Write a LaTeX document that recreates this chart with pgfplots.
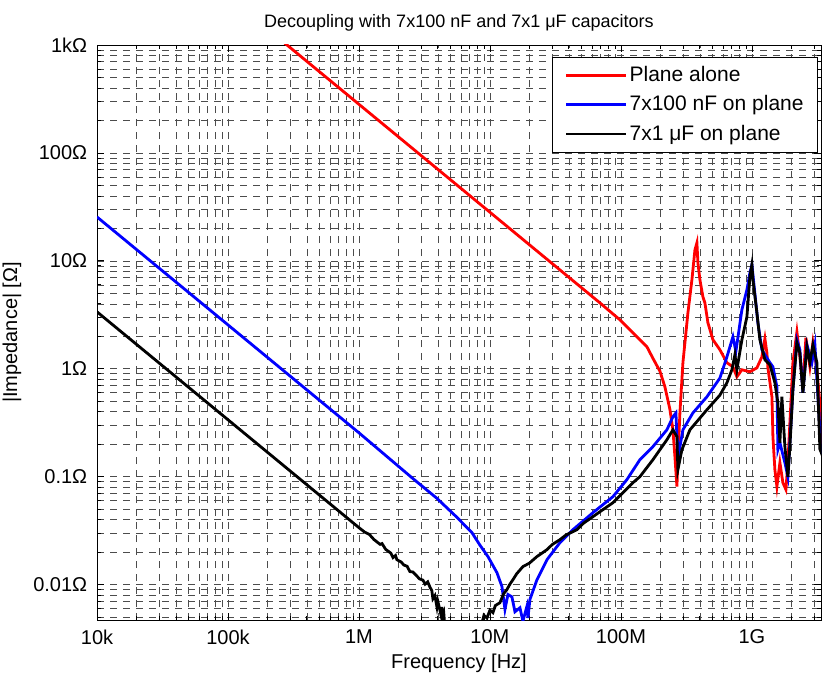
\documentclass[border=0pt]{standalone}
\usepackage{fontspec}
\setmainfont{Liberation Sans}
\usepackage{pgfplots}
\pgfplotsset{compat=1.18}
\begin{document}
\fontsize{20}{24}\selectfont
\begin{tikzpicture}
\useasboundingbox (0,0) rectangle (824pt,678pt);
\begin{axis}[
  at={(97pt,58pt)}, anchor=south west,
  scale only axis, width=724pt, height=575pt,
  xmode=log, ymode=log,
  xmin=1e4, xmax=3.37e9, ymin=0.0047, ymax=1000,
  xtick={1e4,1e5,1e6,1e7,1e8,1e9},
  xticklabels={10k,100k,1M,10M,100M,1G},
  ytick={0.01,0.1,1,10,100,1000},
  yticklabels={0.01Ω,0.1Ω,1Ω,10Ω,100Ω,1kΩ},
  minor xtick={2e4,3e4,4e4,5e4,6e4,7e4,8e4,9e4,2e5,3e5,4e5,5e5,6e5,7e5,8e5,9e5,2e6,3e6,4e6,5e6,6e6,7e6,8e6,9e6,2e7,3e7,4e7,5e7,6e7,7e7,8e7,9e7,2e8,3e8,4e8,5e8,6e8,7e8,8e8,9e8,2e9,3e9},
  minor ytick={0.005,0.006,0.007,0.008,0.009,0.02,0.03,0.04,0.05,0.06,0.07,0.08,0.09,0.2,0.3,0.4,0.5,0.6,0.7,0.8,0.9,2,3,4,5,6,7,8,9,20,30,40,50,60,70,80,90,200,300,400,500,600,700,800,900},
  grid=both,
  major grid style={dash pattern=on 7pt off 6pt, black!70, line width=0.55pt},
  minor grid style={dash pattern=on 7pt off 6pt, black!70, line width=0.55pt},
  tick align=inside, major tick length=7pt, minor tick length=4pt,
  tick style={black, line width=0.7pt},
  axis line style={line width=0.9pt},
  xticklabel style={yshift=-3pt},
  yticklabel style={xshift=-3pt},
  title={Decoupling with 7x100 nF and 7x1 μF capacitors},
  title style={font=\fontsize{18}{22}\selectfont, yshift=1pt},
  xlabel={Frequency [Hz]},
  ylabel={|Impedance| [Ω]},
  xlabel style={at={(axis description cs:0.5,0)}, anchor=center, yshift=-43pt},
  ylabel style={at={(axis description cs:-0.1174,0.5)}, anchor=center},
  legend style={at={(0.9959,0.979)}, anchor=north east, draw=black, line width=0.9pt, fill=white,
    font=\fontsize{21}{25}\selectfont, inner xsep=12pt, inner ysep=7pt, row sep=7pt},
  legend cell align=left,
  legend image code/.code={\draw[#1] (0pt,0pt) -- (60pt,0pt);},
]
\addplot[red, line width=2.8pt] coordinates {
(2.49e5,1131) (2.822e5,1000) (6.91e7,4.08) (9.83e7,2.84) (1.396e8,1.86) (1.579e8,1.60)
(1.755e8,1.25) (1.985e8,0.95) (2.167e8,0.68) (2.366e8,0.42) (2.494e8,0.272) (2.584e8,0.153)
(2.676e8,0.081) (2.723e8,0.144) (2.821e8,0.391) (2.974e8,1.14) (3.247e8,3.30) (3.483e8,6.67)
(3.672e8,12.6) (3.804e8,14.7) (3.871e8,9.6) (4.01e8,6.67) (4.227e8,4.64) (4.377e8,4.08)
(4.614e8,2.67) (5.038e8,1.86) (5.698e8,1.50) (6.446e8,1.137) (7.161e8,1.043) (7.683e8,0.843)
(8.387e8,0.979) (9.654e8,0.938) (1.092e9,1.02) (1.192e9,1.29) (1.257e9,1.9) (1.302e9,1.40)
(1.325e9,1.02) (1.422e9,0.55) (1.447e9,0.235) (1.498e9,0.116) (1.552e9,0.081) (1.636e9,0.135)
(1.724e9,0.088) (1.818e9,0.076) (1.883e9,0.135) (2.056e9,1.14) (2.206e9,2.20) (2.325e9,1.29)
(2.451e9,0.681) (2.584e9,1.94) (2.772e9,1.043) (2.922e9,1.74) (3.134e9,0.979) (3.304e9,0.484)
(3.545e9,0.135)
};
\addlegendentry{Plane alone}
\addplot[blue, line width=2.8pt] coordinates {
(1e4,25.5) (1e6,0.255) (2.584e6,0.096) (3.939e6,0.063) (5.6e6,0.042) (7.288e6,0.0303)
(8.388e6,0.0232) (9.655e6,0.0182) (1.131e7,0.0129) (1.235e7,0.0096) (1.302e7,0.0059)
(1.372e7,0.0081) (1.472e7,0.0077) (1.552e7,0.0056) (1.694e7,0.0061) (1.786e7,0.0046)
(1.916e7,0.0063) (1.950e7,0.0049) (2.020e7,0.0073) (2.285e7,0.0111) (2.724e7,0.0170)
(3.423e7,0.0245) (4.301e7,0.0323) (6.113e7,0.0464) (8.687e7,0.0653) (1.111e8,0.094)
(1.396e8,0.1437) (1.755e8,0.19) (2.244e8,0.272) (2.494e8,0.359) (2.630e8,0.39) (2.676e8,0.235)
(2.771e8,0.167) (2.974e8,0.272) (3.545e8,0.39) (4.534e8,0.55) (5.698e8,0.82) (6.446e8,1.29)
(7.161e8,1.98) (7.55e8,1.45) (8.387e8,3.52) (9.159e8,5.39) (9.654e8,7.74) (1.0e9,9.2)
(1.05e9,5.2) (1.111e9,2.67) (1.192e9,1.5) (1.372e9,1.14) (1.447e9,1.043) (1.552e9,0.68)
(1.579e9,0.178) (1.636e9,0.206) (1.786e9,0.135) (1.883e9,0.10) (2.056e9,0.639) (2.206e9,1.855)
(2.325e9,1.5) (2.451e9,0.60) (2.63e9,1.67) (2.871e9,1.14) (3.027e9,1.67) (3.304e9,0.27)
(3.545e9,0.13)
};
\addlegendentry{7x100 nF on plane}
\addplot[black, line width=2.8pt] coordinates {
(1e4,3.37) (1e5,0.337) (5e5,0.0674) (1e6,0.0337) (1.1e6,0.0308) (1.2e6,0.0292) (1.3e6,0.0262)
(1.45e6,0.0236) (1.5e6,0.0240) (1.6e6,0.0212) (1.75e6,0.0196) (1.82e6,0.0178) (1.9e6,0.0186)
(1.95e6,0.0170) (2.1e6,0.0162) (2.2e6,0.0152) (2.33e6,0.0148) (2.45e6,0.0132) (2.58e6,0.0131)
(2.75e6,0.0121) (2.9e6,0.0113) (3.08e6,0.0110) (3.2e6,0.0101) (3.35e6,0.0106) (3.48e6,0.0095)
(3.6e6,0.0088) (3.67e6,0.0074) (3.8e6,0.0079) (3.94e6,0.0062) (4.0e6,0.0070) (4.15e6,0.0058)
(4.25e6,0.0051) (4.3e6,0.0062) (4.38e6,0.0049) (4.45e6,0.0053) (4.53e6,0.0040) (5.5e6,0.0030)
(8.0e6,0.0030) (8.69e6,0.0044) (9.0e6,0.0052) (9.49e6,0.0049) (1.0e7,0.0058) (1.054e7,0.0055)
(1.1e7,0.0064) (1.192e7,0.0068) (1.27e7,0.0082) (1.348e7,0.0090) (1.42e7,0.0101) (1.498e7,0.0111)
(1.6e7,0.0126) (1.786e7,0.0147) (2.0e7,0.0158) (2.285e7,0.0182) (2.5e7,0.0196) (2.724e7,0.0211)
(3.0e7,0.0236) (3.423e7,0.0261) (3.8e7,0.0288) (4.614e7,0.0323) (5.2e7,0.0372) (6.113e7,0.0426)
(7.2e7,0.049) (8.687e7,0.0574) (1.0e8,0.068) (1.235e8,0.088) (1.396e8,0.100) (1.755e8,0.1437)
(2.244e8,0.22) (2.494e8,0.272) (2.676e8,0.235) (2.723e8,0.116) (2.922e8,0.178) (3.364e8,0.272)
(4.534e8,0.417) (5.698e8,0.57) (6.446e8,0.742) (7.036e8,0.979) (7.418e8,1.35) (7.683e8,0.979)
(8.387e8,1.855) (9.159e8,3.03) (9.654e8,7.11) (1.0e9,9.2) (1.018e9,6.67) (1.092e9,3.30)
(1.151e9,1.855) (1.257e9,1.21) (1.372e9,1.09) (1.498e9,0.742) (1.579e9,0.484) (1.636e9,0.206)
(1.694e9,0.55) (1.786e9,0.19) (1.883e9,0.10) (1.95e9,0.19) (2.056e9,0.64) (2.206e9,1.74)
(2.325e9,1.40) (2.451e9,0.60) (2.63e9,1.6) (2.772e9,1.14) (2.922e9,1.67) (3.134e9,1.14)
(3.304e9,0.18) (3.483e9,0.153)
};
\addlegendentry{7x1 μF on plane}
\end{axis}
\end{tikzpicture}
\end{document}
